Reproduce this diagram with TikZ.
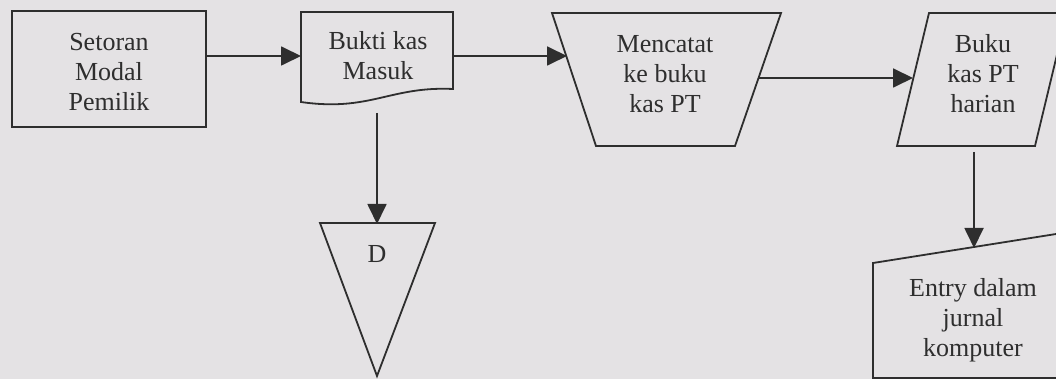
\documentclass[tikz,border=0pt]{standalone}
\usepackage{fontspec}
\setmainfont{Liberation Serif}
\usetikzlibrary{arrows.meta}
\definecolor{bgc}{HTML}{E4E2E4}
\definecolor{ink}{HTML}{2E2E2E}
\tikzset{
  shapeline/.style={draw=ink, line width=1.8pt, line join=miter},
  lbl/.style={text=ink, align=center, inner sep=0pt, font=\fontsize{26}{30}\selectfont},
  conn/.style={draw=ink, line width=1.8pt, -{Triangle[length=20pt,width=19pt]}},
}
\begin{document}
\begin{tikzpicture}[x=1pt,y=-1pt]
\fill[bgc] (0,0) rectangle (1056,379);
\useasboundingbox (0,0) rectangle (1056,379);
\begin{scope}
\clip (0,0) rectangle (1056,379);
% shapes
\draw[shapeline] (12,11) rectangle (206,127);
\draw[shapeline] (301,12) -- (453,12) -- (453,89) .. controls (390,86) and (370,112) .. (301,102) -- cycle;
\draw[shapeline] (552,13) -- (781,13) -- (735,146) -- (596,146) -- cycle;
\draw[shapeline] (929,13) -- (1067,13) -- (1035,146) -- (897,146) -- cycle;
\draw[shapeline] (320,223) -- (435,223) -- (377,376) -- cycle;
\draw[shapeline] (1075,231) -- (873,263) -- (873,378) -- (1075,378);
% labels
\node[lbl] (setoran) at (109,72) {Setoran\\Modal\\Pemilik};
\node[lbl] (bukti) at (378,56) {Bukti kas\\Masuk};
\node[lbl] (catat) at (665,74) {Mencatat\\ke buku\\kas PT};
\node[lbl] (buku) at (983,74) {Buku\\kas PT\\harian};
\node[lbl] (arsip) at (377,254) {D};
\node[lbl] (entry) at (973,320) {Entry dalam\\jurnal\\komputer};
% connector ends
\coordinate (setoranE) at (206,56);
\coordinate (buktiW) at (301,56);
\coordinate (buktiE) at (453,56);
\coordinate (catatW) at (567,56);
\coordinate (catatE) at (759,78);
\coordinate (bukuW) at (913,78);
\coordinate (buktiS) at (377,113);
\coordinate (arsipN) at (377,224);
\coordinate (bukuS) at (974,152);
\coordinate (entryN) at (974,248);
% connectors
\draw[conn] (setoranE) -- (buktiW);
\draw[conn] (buktiE) -- (catatW);
\draw[conn] (catatE) -- (bukuW);
\draw[conn] (buktiS) -- (arsipN);
\draw[conn] (bukuS) -- (entryN);
\end{scope}
\end{tikzpicture}
\end{document}
